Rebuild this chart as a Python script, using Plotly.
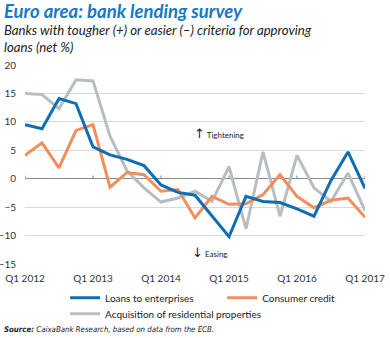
import plotly.graph_objects as go

# Quarterly observations, Q1 2012 .. Q1 2017 (net % of banks)
quarters = [f"Q{q} {y}" for y in range(2012, 2018) for q in range(1, 5)][:21]
loans_enterprises = [9.5, 8.8, 14.1, 13.2, 5.6, 4.2, 3.4, 2.3, -1.1, -2.4, -2.9,
                     -6.5, -10.2, -3.1, -4.0, -4.2, -5.3, -6.6, -0.3, 4.7, -1.7]
consumer_credit = [4.1, 6.3, 1.9, 8.5, 9.5, -1.5, 1.1, 0.7, -2.2, -1.9, -6.9,
                   -3.1, -4.5, -4.4, -2.8, 0.7, -3.1, -5.1, -3.8, -3.4, -6.8]
residential = [15.0, 14.8, 12.3, 17.4, 17.2, 7.5, 1.4, -1.6, -4.1, -3.4, -2.2,
               -4.0, 2.1, -8.8, 4.7, -6.6, 4.1, -1.6, -4.0, 1.0, -5.6]

year_ticks = ["Q1 2012", "Q1 2013", "Q1 2014", "Q1 2015", "Q1 2016", "Q1 2017"]
y_ticks = [20, 15, 10, 5, 0, -5, -10, -15]

BLUE = "#0f6db5"
ORANGE = "#f28e5b"
GREY = "#b6bec2"
FONT = "Lato"
NARROW = "DejaVu Sans Condensed"

x = list(range(len(quarters)))
tick_pos = [quarters.index(t) for t in year_ticks]

fig = go.Figure()
# grey first, blue last so the blue line sits on top
fig.add_trace(go.Scatter(x=x, y=residential, mode="lines", name="Acquisition of residential properties",
                         line=dict(color=GREY, width=3), legend="legend3"))
fig.add_trace(go.Scatter(x=x, y=consumer_credit, mode="lines", name="Consumer credit",
                         line=dict(color=ORANGE, width=3), legend="legend2"))
fig.add_trace(go.Scatter(x=x, y=loans_enterprises, mode="lines", name="Loans to enterprises",
                         line=dict(color=BLUE, width=3), legend="legend"))

# small year ticks sitting on the zero line
shapes = [dict(type="line", xref="x", yref="y", x0=p, x1=p, y0=0, y1=0.55,
               line=dict(color="#7f7f7f", width=1)) for p in tick_pos]

legend_style = dict(orientation="v", xanchor="left", yanchor="top", bgcolor="rgba(0,0,0,0)",
                    font=dict(family=FONT, size=10, color="#222222"), itemwidth=30)

fig.update_layout(
    width=390, height=338,
    margin=dict(l=25, r=25, t=65, b=74, autoexpand=False),
    paper_bgcolor="white", plot_bgcolor="white",
    font=dict(family=FONT, size=10, color="#333333"),
    showlegend=True,
    legend=dict(x=0.118, y=-0.097, **legend_style),
    legend2=dict(x=0.58, y=-0.097, **legend_style),
    legend3=dict(x=0.118, y=-0.177, **legend_style),
    xaxis=dict(range=[0, 20], tickvals=tick_pos, ticktext=year_ticks, showgrid=False,
               showline=False, zeroline=False, ticks="", ticklabelstandoff=7,
               tickfont=dict(size=10, color="#333333"), fixedrange=True),
    yaxis=dict(range=[-15, 20], tickvals=y_ticks, showgrid=True, gridcolor="#d9d9d9",
               gridwidth=1, zeroline=True, zerolinecolor="#8c8c8c", zerolinewidth=1,
               showline=False, ticks="", ticklabelstandoff=8,
               tickfont=dict(size=10, color="#333333"), fixedrange=True),
    shapes=shapes,
    annotations=[
        dict(text="<b><i>Euro area: bank lending survey</i></b>", xref="paper", yref="paper",
             x=-0.067, y=1.272, xanchor="left", yanchor="middle", showarrow=False,
             font=dict(family=FONT, size=18.5, color="#1a78c2")),
        dict(text="<i>Banks with tougher (+) or easier (–) criteria for approving<br>loans (net %)</i>",
             xref="paper", yref="paper", x=-0.067, y=1.135, xanchor="left", yanchor="middle",
             align="left", showarrow=False,
             font=dict(family=FONT, size=13.2, color="#222222")),
        dict(text="<span style='font-family:DejaVu Sans;font-size:13px'>↑</span> Tightening",
             xref="x", yref="y", x=9.85, y=8.0, xanchor="left", yanchor="middle",
             showarrow=False, font=dict(family=FONT, size=8, color="#222222")),
        dict(text="<span style='font-family:DejaVu Sans;font-size:13px'>↓</span> Easing",
             xref="x", yref="y", x=9.7, y=-12.9, xanchor="left", yanchor="middle",
             showarrow=False, font=dict(family=FONT, size=8, color="#222222")),
        dict(text="<b><i>Source:</i></b><i> CaixaBank Research, based on data from the ECB.</i>",
             xref="paper", yref="paper", x=-0.067, y=-0.33, xanchor="left", yanchor="middle",
             showarrow=False, font=dict(family=NARROW, size=7.8, color="#222222")),
    ],
)

fig.write_html("out.html")
